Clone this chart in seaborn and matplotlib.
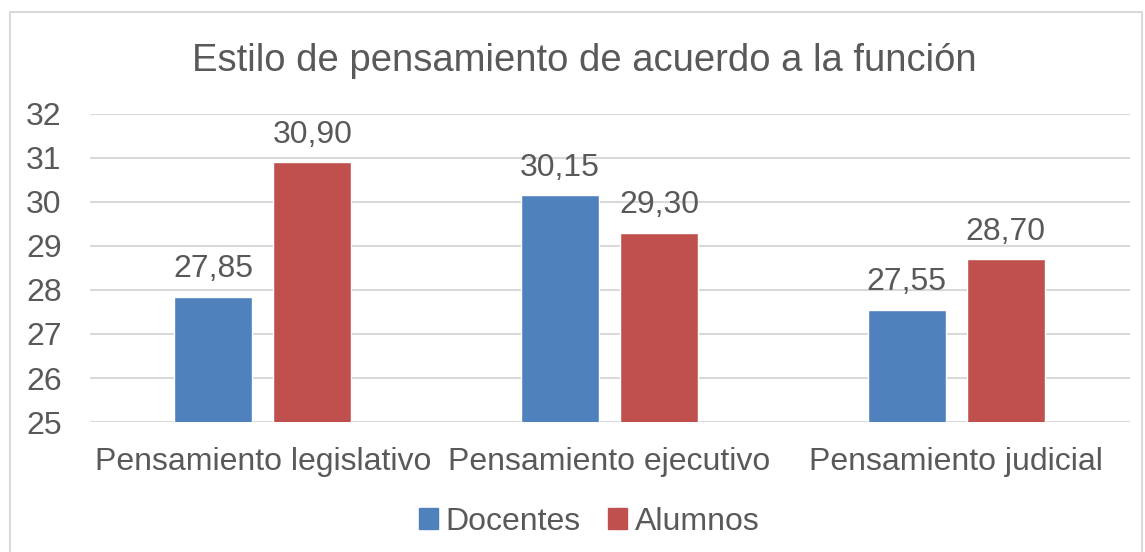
import matplotlib
matplotlib.use("Agg")
import matplotlib.pyplot as plt
import pandas as pd
import seaborn as sns
from matplotlib.patches import Rectangle

categorias = ["Pensamiento legislativo", "Pensamiento ejecutivo", "Pensamiento judicial"]
docentes = [27.85, 30.15, 27.55]
alumnos = [30.90, 29.30, 28.70]
series = ["Docentes", "Alumnos"]
colores = ["#4F81BD", "#C0504D"]
gris = "#595959"

df = pd.DataFrame({
    "categoria": categorias * 2,
    "valor": docentes + alumnos,
    "serie": [series[0]] * 3 + [series[1]] * 3,
})

sns.set_theme(style="white")
plt.rcParams["font.family"] = ["Liberation Sans", "DejaVu Sans"]

fig = plt.figure(figsize=(11.45, 5.52), dpi=100)
ax = fig.add_axes([0.0782, 0.2355, 0.9083, 0.558])

sns.barplot(data=df, x="categoria", y="valor", hue="serie", palette=colores,
            width=0.57, gap=0.21, ax=ax, saturation=1, legend=False)

ax.set_ylim(25, 32)
ax.set_yticks(range(25, 33))
ax.yaxis.grid(True, color="#D9D9D9", linewidth=1.5)
ax.set_axisbelow(True)
for s in ax.spines.values():
    s.set_visible(False)
ax.set_xlabel("")
ax.set_ylabel("")
ax.tick_params(axis="y", labelsize=23, colors=gris, length=0, pad=20)
ax.tick_params(axis="x", labelsize=23, colors=gris, length=0, pad=18)

for cont in ax.containers:
    ax.bar_label(cont, labels=[f"{v:.2f}".replace(".", ",") for v in cont.datavalues],
                 fontsize=23, color=gris, padding=9)

fig.text(0.51, 0.89, "Estilo de pensamiento de acuerdo a la función",
         ha="center", va="center", fontsize=27.5, color=gris)

handles = [Rectangle((0, 0), 1, 1, color=c) for c in colores]
fig.legend(handles, series, loc="center", bbox_to_anchor=(0.5146, 0.055), ncol=2,
           frameon=False, fontsize=23, labelcolor=gris, handlelength=0.6,
           handleheight=0.6, handletextpad=0.25, columnspacing=0.85)

fig.patches.append(Rectangle((0.009, -0.01), 0.988, 0.988, transform=fig.transFigure,
                             fill=False, edgecolor="#D9D9D9", linewidth=1.5))

fig.savefig("out.png", dpi=100)
